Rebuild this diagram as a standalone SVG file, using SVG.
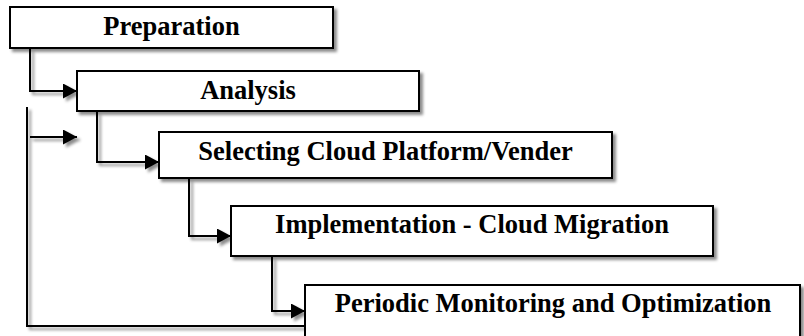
<svg xmlns="http://www.w3.org/2000/svg" width="804" height="336" viewBox="0 0 804 336">
  <style>
    .box { fill: #ffffff; stroke: #000000; stroke-width: 2; filter: url(#shadow); }
    .label { font-family: "Liberation Serif", "Times New Roman", serif; font-weight: bold; font-size: 26.5px; fill: #000000; text-anchor: middle; }
    .link { fill: none; stroke: #000000; stroke-width: 2; }
  </style>
  <defs>
    <filter id="shadow" x="-10%" y="-20%" width="125%" height="160%">
      <feDropShadow dx="3" dy="3" stdDeviation="1.8" flood-color="#000000" flood-opacity="0.45"/>
    </filter>
    <marker id="arrow" markerUnits="userSpaceOnUse" markerWidth="15" markerHeight="16" refX="14" refY="7.5" orient="auto">
      <path d="M0,0 L14,7.5 L0,15 Z" fill="#000000"/>
    </marker>
  </defs>

  <rect width="804" height="336" fill="#ffffff"/>

  <!-- connectors -->
  <g id="connectors" filter="url(#shadow)">
    <path class="link" d="M30,49 V91 H77" marker-end="url(#arrow)"/>
    <path class="link" d="M97,112 V162 H159" marker-end="url(#arrow)"/>
    <path class="link" d="M30,137 H77" marker-end="url(#arrow)"/>
    <path class="link" d="M27,107 V326 H305"/>
    <path class="link" d="M189,179 V236 H231" marker-end="url(#arrow)"/>
    <path class="link" d="M272,257 V311 H305" marker-end="url(#arrow)"/>
  </g>

  <!-- process steps -->
  <g id="preparation">
    <rect class="box" x="10" y="7" width="323" height="41"/>
    <text class="label" x="171.5" y="35">Preparation</text>
  </g>
  <g id="analysis">
    <rect class="box" x="77" y="71" width="342" height="40"/>
    <text class="label" x="248" y="98.5">Analysis</text>
  </g>
  <g id="selecting">
    <rect class="box" x="159" y="132" width="453" height="46"/>
    <text class="label" x="385.5" y="160">Selecting Cloud Platform/Vender</text>
  </g>
  <g id="implementation">
    <rect class="box" x="231" y="206" width="482" height="50"/>
    <text class="label" x="472" y="232.5">Implementation - Cloud Migration</text>
  </g>
  <g id="monitoring">
    <rect class="box" x="305" y="285" width="495" height="70"/>
    <text class="label" x="553" y="311.5">Periodic Monitoring and Optimization</text>
  </g>
</svg>
